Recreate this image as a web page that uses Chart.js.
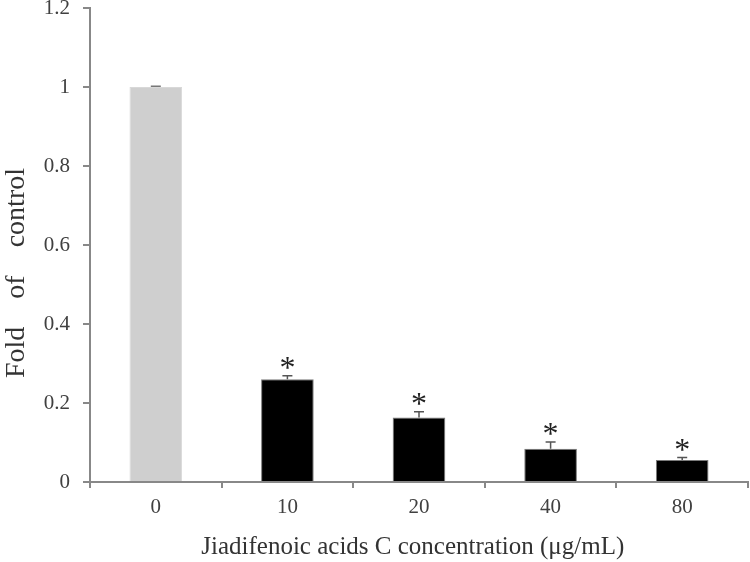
<!DOCTYPE html>
<html>
<head>
<meta charset="utf-8">
<script src="https://cdn.jsdelivr.net/npm/chart.js@4"></script>
<style>
  html, body { margin: 0; padding: 0; background: #fff; }
  #wrap { width: 750px; height: 562px; }
</style>
</head>
<body>
<div id="wrap"><canvas id="foldChart" width="750" height="562"></canvas></div>
<script>
// data
const concentrations = ['0', '10', '20', '40', '80'];
const foldValues = [1.0, 0.26, 0.163, 0.084, 0.056];
const errValues = [0.002, 0.009, 0.015, 0.017, 0.006];
const significant = [false, true, true, true, true];
const barColors = ['#cfcfcf', '#000000', '#000000', '#000000', '#000000'];
const yTicks = [0, 0.2, 0.4, 0.6, 0.8, 1.0, 1.2];

const serif = '"Liberation Serif", "Times New Roman", serif';
const axisGrey = '#888888';

// error bars + asterisks
const errorBarPlugin = {
    id: 'errorBars',
    afterDatasetsDraw(chart) {
        const ctx = chart.ctx;
        const meta = chart.getDatasetMeta(0);
        const y = chart.scales.y;
        ctx.save();
        meta.data.forEach((bar, i) => {
            const top = y.getPixelForValue(foldValues[i]);
            const errTop = y.getPixelForValue(foldValues[i] + errValues[i]);
            ctx.strokeStyle = i === 0 ? '#777777' : '#555555';
            ctx.lineWidth = 1.5;
            ctx.beginPath();
            ctx.moveTo(bar.x, top);
            ctx.lineTo(bar.x, errTop);
            ctx.moveTo(bar.x - 5, errTop);
            ctx.lineTo(bar.x + 5, errTop);
            ctx.stroke();
            if (significant[i]) {
                ctx.fillStyle = '#222222';
                ctx.font = '32px ' + serif;
                ctx.textAlign = 'center';
                ctx.textBaseline = 'alphabetic';
                ctx.fillText('*', bar.x, errTop + 2);
            }
        });
        ctx.restore();
    }
};

const ctx = document.getElementById('foldChart').getContext('2d');
new Chart(ctx, {
    type: 'bar',
    data: {
        labels: concentrations,
        datasets: [{
            data: foldValues,
            backgroundColor: barColors,
            borderColor: ['#d8d8d8', '#7a7a7a', '#7a7a7a', '#7a7a7a', '#7a7a7a'],
            borderWidth: 1,
            barPercentage: 0.4,
            categoryPercentage: 1.0
        }]
    },
    options: {
        responsive: false,
        animation: false,
        layout: { padding: { top: 8, right: 2, left: 0, bottom: 0 } },
        plugins: { legend: { display: false }, tooltip: { enabled: false } },
        scales: {
            x: {
                grid: { display: true, drawOnChartArea: false, drawTicks: true, tickLength: 6, color: axisGrey, lineWidth: 2, offset: true },
                border: { color: axisGrey, width: 2 },
                ticks: { color: '#404040', font: { family: serif, size: 21 }, padding: 7 },
                title: {
                    display: true,
                    text: 'Jiadifenoic acids C concentration (\u03bcg/mL)  ',
                    color: '#333333',
                    font: { family: serif, size: 25 },
                    padding: { top: 0, bottom: 0 }
                },
                afterFit(scale) { scale.height = 80; scale.paddingLeft = 0; scale.paddingRight = 0; }
            },
            y: {
                min: 0,
                max: 1.2,
                afterBuildTicks(scale) { scale.ticks = yTicks.map(v => ({ value: v })); },
                grid: { display: true, drawOnChartArea: false, drawTicks: true, tickLength: 7, color: axisGrey, lineWidth: 2 },
                border: { color: axisGrey, width: 2 },
                ticks: {
                    color: '#404040',
                    font: { family: serif, size: 21 },
                    padding: 13,
                    callback: v => String(Number(v.toFixed(1)))
                },
                title: {
                    display: true,
                    text: 'Fold    of    control        ',
                    color: '#333333',
                    font: { family: serif, size: 28 },
                    padding: { top: 0, bottom: 0 }
                },
                afterFit(scale) { scale.width = 90; scale.paddingTop = 0; scale.paddingBottom = 0; }
            }
        }
    },
    plugins: [errorBarPlugin]
});
</script>
</body>
</html>
